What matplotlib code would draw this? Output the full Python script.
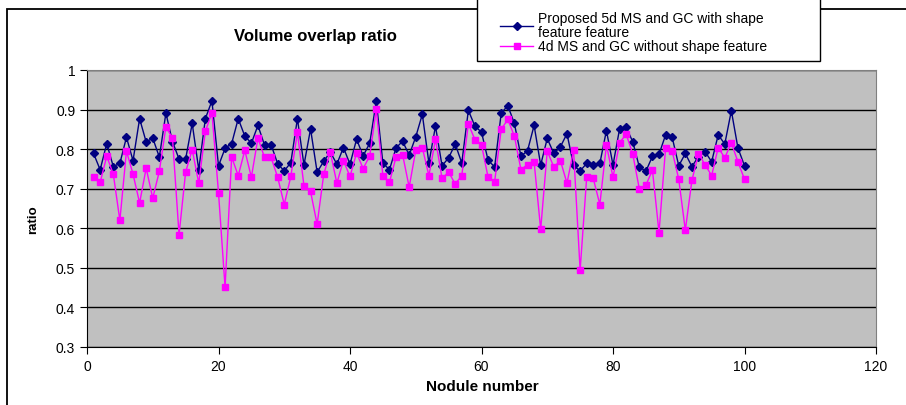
import matplotlib
matplotlib.use("Agg")
import matplotlib.pyplot as plt
from matplotlib.patches import Rectangle

plt.rcParams["font.family"] = ["Liberation Sans", "DejaVu Sans"]

# Datos
nodulos = list(range(1, 101))
propuesto_5d = [
    0.789, 0.748, 0.814, 0.756, 0.764, 0.830, 0.771, 0.877, 0.818, 0.828,
    0.780, 0.891, 0.819, 0.775, 0.775, 0.865, 0.748, 0.877, 0.922, 0.758,
    0.802, 0.814, 0.877, 0.833, 0.815, 0.860, 0.810, 0.811, 0.763, 0.745,
    0.766, 0.877, 0.760, 0.851, 0.742, 0.769, 0.793, 0.762, 0.804, 0.762,
    0.825, 0.783, 0.815, 0.921, 0.765, 0.748, 0.803, 0.820, 0.785, 0.831,
    0.888, 0.765, 0.858, 0.758, 0.778, 0.813, 0.765, 0.898, 0.858, 0.843,
    0.772, 0.755, 0.891, 0.910, 0.865, 0.782, 0.796, 0.860, 0.760, 0.827,
    0.789, 0.806, 0.839, 0.759, 0.745, 0.764, 0.759, 0.764, 0.847, 0.760,
    0.851, 0.855, 0.819, 0.755, 0.744, 0.782, 0.787, 0.836, 0.830, 0.758,
    0.789, 0.756, 0.781, 0.794, 0.768, 0.836, 0.813, 0.897, 0.803, 0.758,
]
sin_forma_4d = [
    0.730, 0.716, 0.782, 0.737, 0.620, 0.795, 0.737, 0.664, 0.752, 0.676,
    0.744, 0.856, 0.828, 0.584, 0.742, 0.799, 0.714, 0.845, 0.892, 0.690,
    0.451, 0.780, 0.733, 0.797, 0.729, 0.828, 0.779, 0.779, 0.729, 0.660,
    0.731, 0.843, 0.707, 0.693, 0.610, 0.736, 0.793, 0.714, 0.771, 0.731,
    0.790, 0.751, 0.783, 0.901, 0.733, 0.716, 0.780, 0.786, 0.704, 0.797,
    0.804, 0.733, 0.825, 0.726, 0.742, 0.712, 0.733, 0.864, 0.824, 0.811,
    0.729, 0.718, 0.850, 0.875, 0.833, 0.748, 0.761, 0.768, 0.597, 0.795,
    0.755, 0.771, 0.714, 0.797, 0.494, 0.729, 0.726, 0.660, 0.811, 0.729,
    0.816, 0.838, 0.788, 0.700, 0.709, 0.747, 0.589, 0.804, 0.795, 0.724,
    0.595, 0.721, 0.788, 0.761, 0.733, 0.804, 0.778, 0.816, 0.768, 0.724,
]
etiquetas = ["Proposed 5d MS and GC with shape\nfeature feature",
             "4d MS and GC without shape feature"]

W, H = 906, 406
fig = plt.figure(figsize=(W / 100, H / 100), dpi=100)

# Marco exterior del grafico (estilo Excel)
fig.patches.append(Rectangle((7 / W, -0.1), 1.2, 1 - 10 / H + 0.1,
                             transform=fig.transFigure, fill=False,
                             edgecolor="black", linewidth=1.3))

ax = fig.add_axes([87 / W, 1 - 348 / H, 789 / W, 277 / H])
ax.set_facecolor("#c0c0c0")
for lado in ax.spines.values():
    lado.set_color("#808080")
ax.spines["left"].set_color("black")
ax.spines["bottom"].set_color("black")

ax.set_xlim(0, 120)
ax.set_ylim(0.3, 1.0)
ax.set_xticks(range(0, 121, 20))
ax.set_yticks([0.3, 0.4, 0.5, 0.6, 0.7, 0.8, 0.9, 1.0])
ax.set_yticklabels(["0.3", "0.4", "0.5", "0.6", "0.7", "0.8", "0.9", "1"])
ax.yaxis.grid(True, color="black", linewidth=1.0)
ax.set_axisbelow(True)
ax.tick_params(axis="both", labelsize=10, length=5, direction="out")

l1, = ax.plot(nodulos, propuesto_5d, color="#000080", linewidth=1.0,
              marker="D", markersize=3.8, markerfacecolor="#000080",
              markeredgecolor="#000080")
l2, = ax.plot(nodulos, sin_forma_4d, color="#ff00ff", linewidth=1.0,
              marker="s", markersize=4.5, markerfacecolor="#ff00ff",
              markeredgecolor="#ff00ff")

ax.set_xlabel("Nodule number", fontsize=11, fontweight="bold")
ax.xaxis.set_label_coords(0.501, -0.115)
ax.set_ylabel("ratio", fontsize=9.5, fontweight="bold", va="center")
ax.yaxis.set_label_coords(-0.068, 0.464)

fig.text(315 / W, 1 - 37 / H, "Volume overlap ratio", fontsize=12,
         fontweight="bold", ha="center", va="center")

# Caja de la leyenda (cortada arriba)
fig.patches.append(Rectangle((477 / W, 1 - 62 / H), (820 - 477) / W, 0.3,
                             transform=fig.transFigure, facecolor="white",
                             edgecolor="black", linewidth=1.0, zorder=3))
ley = fig.legend([l1, l2], etiquetas, loc="upper left",
                 bbox_to_anchor=(493 / W, 1 - 5 / H), frameon=False,
                 fontsize=10, handlelength=2.4, handletextpad=0.35,
                 labelspacing=0.0, borderpad=0.0)
for t in ley.get_texts():
    t.set_linespacing(1.05)

fig.savefig("out.png", dpi=100)
